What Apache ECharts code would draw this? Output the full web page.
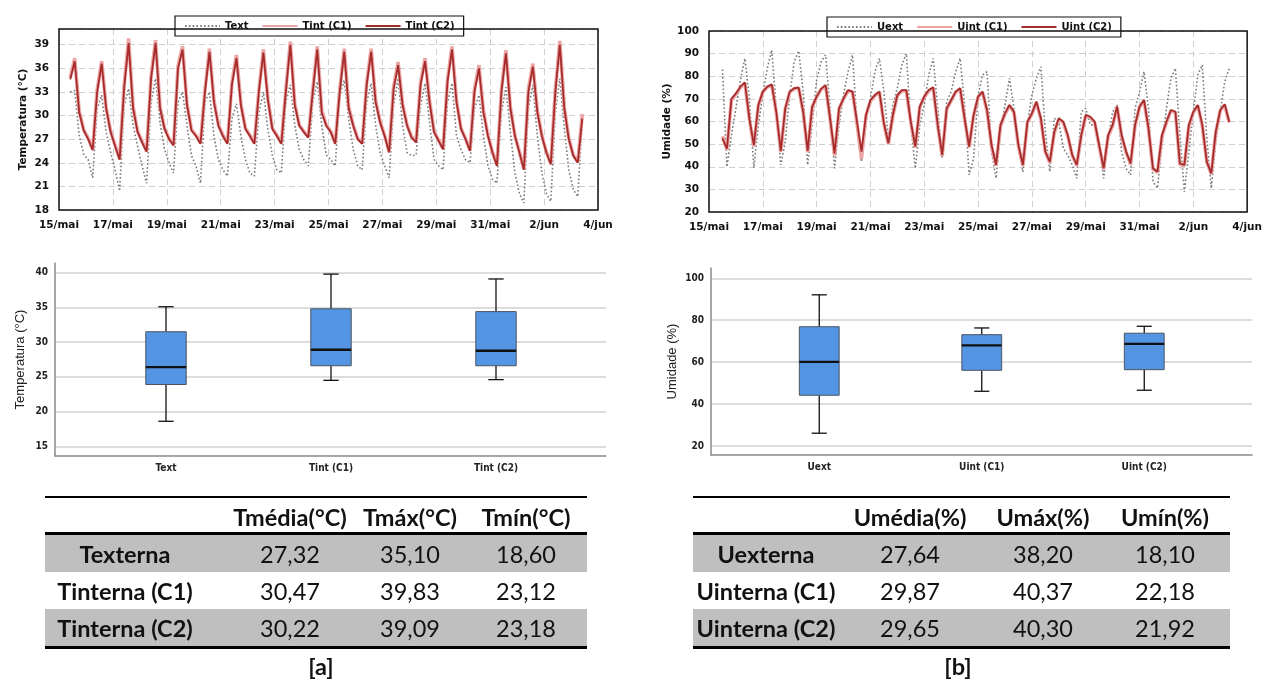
<!DOCTYPE html>
<html>
<head>
<meta charset="utf-8">
<script src="https://cdn.jsdelivr.net/npm/echarts@6/dist/echarts.min.js"></script>
<style>
  html, body { margin: 0; padding: 0; background: #fff; }
  #chart { position: absolute; left: 0; top: 0; width: 1265px; height: 681px; }
  .cell { position: absolute; width: 220px; text-align: center; font-family: Lato, 'Open Sans', sans-serif;
          font-size: 23.5px; line-height: 28px; color: #111; white-space: nowrap; }
  .bold { font-weight: bold; }
  .rule { position: absolute; background: #000; }
  .band { position: absolute; background: #bfbfbf; }
</style>
</head>
<body>
<div id="chart"></div>
<div id="tables"></div>
<script>
// ---- time series: temperature, every 4 h from 15/mai 10:00 ----
const tempText = [
  33.0, 33.2, 27.4, 25.1,
  24.4, 22.1, 30.9, 32.6, 27.9, 25.3,
  23.1, 20.4, 31.3, 33.4, 28.7, 26.1,
  23.6, 21.4, 31.7, 34.7, 29.1, 25.7,
  24.0, 22.7, 31.7, 33.0, 28.7, 24.9,
  23.6, 21.4, 31.7, 33.0, 27.4, 24.4,
  23.1, 22.3, 29.6, 31.5, 27.4, 24.4,
  22.7, 22.3, 30.4, 33.0, 28.3, 24.9,
  23.1, 22.7, 31.7, 33.9, 28.7, 25.7,
  24.4, 23.6, 31.7, 34.3, 28.7, 25.0,
  24.4, 23.6, 32.6, 34.5, 29.6, 25.7,
  23.6, 23.1, 31.7, 34.1, 28.7, 25.3,
  23.6, 22.1, 31.3, 34.7, 28.7, 25.3,
  24.9, 25.0, 31.3, 34.1, 29.1, 24.4,
  23.6, 23.1, 31.7, 34.1, 27.4, 25.7,
  24.4, 24.0, 30.9, 32.6, 27.4, 23.6,
  21.9, 21.4, 30.4, 33.6, 27.9, 22.7,
  20.1, 18.9, 30.9, 33.9, 27.4, 22.7,
  20.1, 19.1, 30.4, 34.7, 28.3, 23.1,
  20.6, 19.7, 29.6
];
const tempC1 = [
  34.8, 37.3, 30.6, 28.2,
  27.1, 25.7, 33.3, 36.9, 31.0, 28.0,
  26.2, 24.5, 33.8, 39.8, 31.1, 28.0,
  26.7, 25.5, 35.0, 39.6, 31.1, 28.4,
  27.1, 26.3, 36.3, 38.8, 31.5, 28.2,
  27.5, 26.5, 33.3, 38.5, 31.9, 28.8,
  27.5, 26.5, 34.2, 37.7, 31.5, 28.4,
  27.5, 26.5, 33.3, 38.4, 32.2, 28.4,
  27.5, 26.5, 33.3, 39.4, 31.5, 28.8,
  28.0, 27.3, 33.3, 38.8, 30.6, 28.8,
  28.0, 26.5, 33.3, 38.5, 31.1, 28.8,
  27.1, 26.5, 34.2, 38.5, 31.9, 29.2,
  27.5, 25.4, 33.7, 36.8, 31.5, 28.8,
  27.3, 26.7, 34.2, 37.3, 31.9, 28.0,
  26.9, 25.8, 34.6, 38.8, 31.9, 28.4,
  27.1, 25.6, 33.3, 36.4, 30.6, 27.5,
  25.4, 23.7, 33.3, 38.3, 31.1, 27.5,
  25.4, 23.2, 33.3, 36.6, 30.6, 27.5,
  25.4, 23.9, 33.3, 39.5, 31.1, 27.1,
  25.0, 24.1, 30.2
];
const tempC2 = [
  34.6, 36.9, 30.4, 28.1,
  27.0, 25.6, 33.0, 36.6, 30.9, 27.9,
  26.1, 24.4, 33.5, 39.2, 30.9, 27.9,
  26.6, 25.4, 34.7, 39.2, 30.9, 28.3,
  27.0, 26.2, 36.0, 38.4, 31.3, 28.1,
  27.4, 26.4, 33.0, 38.1, 31.7, 28.7,
  27.4, 26.4, 33.9, 37.3, 31.3, 28.3,
  27.4, 26.4, 33.0, 38.0, 32.0, 28.3,
  27.4, 26.4, 33.0, 39.0, 31.3, 28.7,
  27.9, 27.2, 33.0, 38.4, 30.4, 28.7,
  27.9, 26.4, 33.0, 38.1, 30.9, 28.7,
  27.0, 26.4, 33.9, 38.1, 31.7, 29.1,
  27.4, 25.3, 33.4, 36.4, 31.3, 28.7,
  27.2, 26.6, 33.9, 36.9, 31.7, 27.9,
  26.8, 25.7, 34.3, 38.4, 31.7, 28.3,
  27.0, 25.5, 33.0, 36.0, 30.4, 27.4,
  25.3, 23.6, 33.0, 37.9, 30.9, 27.4,
  25.3, 23.1, 33.0, 36.2, 30.4, 27.4,
  25.3, 23.8, 33.0, 39.0, 30.9, 27.0,
  24.9, 24.0, 29.6
];

// ---- time series: humidity, every 4 h from 15/mai 12:00 ----
const humExt = [
  83.0, 40.0, 54.0,
  65.8, 78.3, 87.9, 70.2, 39.5, 58.5,
  71.7, 83.5, 91.6, 65.8, 40.8, 51.1,
  71.7, 86.4, 91.2, 73.2, 40.8, 58.5,
  78.3, 86.4, 89.4, 65.8, 39.3, 58.5,
  71.7, 82.0, 89.4, 59.9, 42.2, 59.9,
  70.2, 82.0, 87.9, 73.2, 52.6, 67.3,
  74.7, 85.0, 90.1, 58.5, 39.3, 58.5,
  67.3, 80.6, 87.9, 65.8, 43.7, 68.8,
  73.2, 82.0, 87.9, 67.3, 36.4, 43.7,
  71.7, 80.6, 82.0, 46.7, 34.9, 55.5,
  67.3, 79.1, 65.8, 48.1, 37.8, 58.5,
  71.7, 79.1, 84.2, 55.5, 37.8, 61.4,
  59.9, 48.1, 45.2, 40.8, 34.9, 64.3,
  65.8, 58.5, 58.5, 49.6, 34.9, 52.6,
  64.3, 67.3, 46.7, 39.3, 36.4, 65.8,
  73.2, 82.0, 65.8, 33.4, 30.5, 49.6,
  65.8, 79.1, 83.5, 54.0, 29.0, 46.7,
  64.3, 80.6, 85.0, 52.6, 30.5, 51.1,
  64.3, 77.6, 83.5
];
const humC1 = [
  53.5, 47.5, 69.5,
  72.0, 75.0, 77.0, 61.0, 49.0, 67.0,
  73.0, 75.2, 76.0, 64.0, 46.5, 65.5,
  73.0, 74.5, 74.8, 64.0, 46.5, 66.3,
  70.8, 74.2, 75.8, 61.0, 45.0, 65.5,
  70.0, 73.5, 73.0, 59.0, 43.5, 62.5,
  69.0, 71.5, 73.0, 59.0, 50.0, 62.5,
  71.5, 73.5, 73.5, 59.5, 48.5, 66.3,
  70.8, 73.5, 74.8, 58.0, 44.8, 65.5,
  69.2, 73.0, 74.5, 61.0, 48.5, 62.5,
  70.8, 73.0, 64.5, 49.0, 40.5, 58.0,
  63.3, 67.0, 64.0, 49.0, 40.5, 59.5,
  63.3, 68.5, 61.0, 46.5, 41.8, 55.0,
  61.0, 59.5, 53.5, 45.0, 40.5, 53.5,
  62.5, 61.8, 59.5, 49.0, 39.0, 53.5,
  58.0, 66.3, 53.5, 46.5, 41.0, 58.0,
  66.3, 69.2, 56.5, 39.0, 37.5, 53.5,
  59.5, 64.8, 64.0, 41.0, 40.5, 58.0,
  64.0, 67.0, 58.0, 42.0, 36.8, 55.0,
  64.8, 67.3, 59.5
];
const humC2 = [
  52.5, 48.0, 70.0,
  72.4, 75.4, 77.3, 61.4, 49.6, 67.3,
  73.2, 75.4, 76.4, 64.3, 47.0, 65.8,
  73.2, 74.7, 75.0, 64.3, 47.0, 66.6,
  71.0, 74.4, 76.1, 61.4, 45.9, 65.8,
  70.2, 73.9, 73.2, 59.9, 46.7, 62.9,
  69.5, 71.7, 73.2, 59.2, 50.4, 62.9,
  71.7, 73.9, 73.9, 59.9, 48.9, 66.6,
  71.0, 73.9, 75.1, 58.5, 45.2, 65.8,
  69.5, 73.2, 74.7, 61.4, 48.9, 62.9,
  71.0, 73.2, 65.0, 49.6, 40.8, 58.5,
  63.6, 67.3, 64.3, 49.6, 40.8, 59.9,
  63.6, 68.8, 61.4, 46.7, 42.2, 55.5,
  61.4, 59.9, 54.0, 45.2, 40.8, 54.0,
  62.9, 62.1, 59.9, 49.6, 39.3, 54.0,
  58.5, 66.6, 54.0, 46.7, 41.5, 58.5,
  66.6, 69.5, 57.0, 39.3, 37.8, 54.0,
  59.9, 65.1, 64.3, 41.5, 40.8, 58.5,
  64.3, 67.3, 58.5, 42.2, 37.1, 55.5,
  65.1, 67.6, 59.9
];

// ---- box plots: [min, Q1, median, Q3, max] ----
const boxCatsT = ['Text', 'Tint (C1)', 'Tint (C2)'];
const boxT = [
  [18.6, 23.9, 26.4, 31.5, 35.1],
  [24.5, 26.6, 28.9, 34.8, 39.8],
  [24.6, 26.6, 28.75, 34.4, 39.1]
];
const boxCatsU = ['Uext', 'Uint (C1)', 'Uint (C2)'];
const boxU = [
  [26.1, 44.2, 60.1, 76.9, 92.1],
  [46.1, 56.1, 68.0, 73.1, 76.3],
  [46.6, 56.4, 68.7, 73.8, 77.1]
];
const boxTicksT = [15, 20, 25, 30, 35, 40];
const boxTicksU = [20, 40, 60, 80, 100];

// ---- tables ----
const tHeader = ['Tmédia(°C)', 'Tmáx(°C)', 'Tmín(°C)'];
const tRows = ['Texterna', 'Tinterna (C1)', 'Tinterna (C2)'];
const tValues = [
  ['27,32', '35,10', '18,60'],
  ['30,47', '39,83', '23,12'],
  ['30,22', '39,09', '23,18']
];
const uHeader = ['Umédia(%)', 'Umáx(%)', 'Umín(%)'];
const uRows = ['Uexterna', 'Uinterna (C1)', 'Uinterna (C2)'];
const uValues = [
  ['27,64', '38,20', '18,10'],
  ['29,87', '40,37', '22,18'],
  ['29,65', '40,30', '21,92']
];

const HOUR = 3600 * 1000;
const DAY = 24 * HOUR;
const tempStart = Date.UTC(2021, 4, 15, 10);
const humStart = Date.UTC(2021, 4, 15, 12);
const axisStart = Date.UTC(2021, 4, 15);
const axisEnd = Date.UTC(2021, 5, 4);

function withTime(values, start) {
  return values.map((v, i) => [start + i * 4 * HOUR, v]);
}

function dateLabel(v) {
  const d = new Date(v);
  return d.getUTCDate() + '/' + (d.getUTCMonth() === 4 ? 'mai' : 'jun');
}

const lineFont = { fontFamily: 'DejaVu Sans', fontWeight: 'bold', color: '#111' };
const narrow = { fontFamily: "'DejaVu Sans Condensed', 'Liberation Sans', sans-serif", fontWeight: 'bold', color: '#222', fontSize: 10 };

function timeAxis(gridIndex) {
  return {
    type: 'value', gridIndex, min: axisStart, max: axisEnd, interval: 2 * DAY,
    axisLine: { show: false }, axisTick: { show: false },
    axisLabel: Object.assign({ fontSize: 10.5, margin: 10, formatter: dateLabel }, lineFont),
    splitLine: { show: true, lineStyle: { color: '#cfcfcf', type: [6, 4], width: 1 } }
  };
}

function lineYAxis(gridIndex, name, min, max, interval) {
  return {
    type: 'value', gridIndex, min, max, interval, name,
    nameLocation: 'middle', nameGap: 30,
    nameTextStyle: Object.assign({ fontSize: 10.5 }, lineFont),
    axisLine: { show: false }, axisTick: { show: false },
    axisLabel: Object.assign({ fontSize: 10.5, margin: 10, showMaxLabel: (max - min) % interval === 0 }, lineFont),
    splitLine: { show: true, lineStyle: { color: '#cfcfcf', type: [6, 4], width: 1 } }
  };
}

function frameX(gridIndex) {
  return {
    type: 'value', gridIndex, min: 0, max: 1,
    axisLine: { show: true, onZero: false, lineStyle: { color: '#8a8a8a', width: 1.5 } },
    axisTick: { show: false }, axisLabel: { show: false }, splitLine: { show: false }
  };
}

function frameY(gridIndex, name, min, max, ticks, gap) {
  return {
    type: 'value', gridIndex, min, max, name,
    nameLocation: 'middle', nameGap: gap,
    nameTextStyle: { fontFamily: 'Liberation Sans', fontSize: 13, color: '#222' },
    axisLine: { show: true, lineStyle: { color: '#8a8a8a', width: 1.5 } },
    axisTick: { show: false, customValues: ticks },
    axisLabel: Object.assign({ margin: 7, customValues: ticks }, narrow),
    splitLine: { show: true, lineStyle: { color: '#d2d2d2', width: 1.5 } }
  };
}

function innerX(gridIndex, cats) {
  return {
    type: 'category', gridIndex, data: cats,
    axisLine: { show: false }, axisTick: { show: false },
    axisLabel: Object.assign({ margin: 7 }, narrow)
  };
}

function innerY(gridIndex, min, max) {
  return { type: 'value', gridIndex, min, max, show: false };
}

function renderBox(params, api) {
  const i = api.value(0);
  const lo = api.coord([i, api.value(1)]);
  const q1 = api.coord([i, api.value(2)]);
  const md = api.coord([i, api.value(3)]);
  const q3 = api.coord([i, api.value(4)]);
  const hi = api.coord([i, api.value(5)]);
  const band = api.size([1, 0])[0];
  const w = band * 0.245;
  const cap = w * 0.38;
  const x = md[0];
  const seg = (x1, y1, x2, y2, lw) => ({
    type: 'line', shape: { x1, y1, x2, y2 }, style: { stroke: '#111', lineWidth: lw }
  });
  return {
    type: 'group',
    children: [
      seg(x, hi[1], x, q3[1], 1.3),
      seg(x, q1[1], x, lo[1], 1.3),
      seg(x - cap / 2, hi[1], x + cap / 2, hi[1], 1.3),
      seg(x - cap / 2, lo[1], x + cap / 2, lo[1], 1.3),
      { type: 'rect', shape: { x: x - w / 2, y: q3[1], width: w, height: q1[1] - q3[1] },
        style: { fill: '#5394e3', stroke: '#4d5560', lineWidth: 1 } },
      seg(x - w / 2, md[1], x + w / 2, md[1], 2.4)
    ]
  };
}

function legendBox(left, top, names) {
  return {
    left, top, data: names, orient: 'horizontal',
    padding: [5, 9], itemGap: 13, itemWidth: 35, itemHeight: 10,
    backgroundColor: '#fff', borderColor: '#111', borderWidth: 1.2, borderRadius: 0,
    itemStyle: { opacity: 0 },
    textStyle: { fontFamily: 'DejaVu Sans', fontWeight: 'bold', fontSize: 10, color: '#111' }
  };
}

const extStyle = { color: '#7a7a7a', width: 1.6, type: [1.6, 2.2] };
const c1Style = { color: '#eba6a6', width: 3.6 };
const c2Style = { color: '#a62b2b', width: 1.8 };

function lineSeries(name, data, style, axis) {
  return {
    name, type: 'line', data, xAxisIndex: axis, yAxisIndex: axis,
    showSymbol: false, symbol: 'none', lineStyle: style, itemStyle: { color: style.color },
    emphasis: { disabled: true }
  };
}

const chart = echarts.init(document.getElementById('chart'));
chart.setOption({
  animation: false,
  grid: [
    { left: 59, top: 29, width: 539, height: 181, show: true, z: 5, borderColor: '#111', borderWidth: 1.5, backgroundColor: 'transparent' },
    { left: 709, top: 31, width: 543, height: 181, show: true, z: 5, borderColor: '#111', borderWidth: 1.5, backgroundColor: 'transparent' },
    { left: 55, top: 263, width: 551, height: 193 },
    { left: 83.5, top: 263, width: 495, height: 193 },
    { left: 711, top: 268, width: 541, height: 187 },
    { left: 738, top: 268, width: 487.5, height: 187 }
  ],
  legend: [
    legendBox(175, 16, ['Text', 'Tint (C1)', 'Tint (C2)']),
    legendBox(827, 17, ['Uext', 'Uint (C1)', 'Uint (C2)'])
  ],
  xAxis: [
    timeAxis(0),
    timeAxis(1),
    frameX(2),
    innerX(3, boxCatsT),
    frameX(4),
    innerX(5, boxCatsU)
  ],
  yAxis: [
    lineYAxis(0, 'Temperatura (°C)', 18, 41, 3),
    lineYAxis(1, 'Umidade (%)', 20, 100, 10),
    frameY(2, 'Temperatura (°C)', 13.6, 41.4, boxTicksT, 28),
    innerY(3, 13.6, 41.4),
    frameY(4, 'Umidade (%)', 15.7, 104.9, boxTicksU, 32),
    innerY(5, 15.7, 104.9)
  ],
  series: [
    lineSeries('Text', withTime(tempText, tempStart), extStyle, 0),
    lineSeries('Tint (C1)', withTime(tempC1, tempStart), c1Style, 0),
    lineSeries('Tint (C2)', withTime(tempC2, tempStart), c2Style, 0),
    lineSeries('Uext', withTime(humExt, humStart), extStyle, 1),
    lineSeries('Uint (C1)', withTime(humC1, humStart), c1Style, 1),
    lineSeries('Uint (C2)', withTime(humC2, humStart), c2Style, 1),
    {
      type: 'custom', xAxisIndex: 3, yAxisIndex: 3, renderItem: renderBox,
      encode: { x: 0, y: [1, 2, 3, 4, 5] },
      data: boxT.map((b, i) => [i].concat(b))
    },
    {
      type: 'custom', xAxisIndex: 5, yAxisIndex: 5, renderItem: renderBox,
      encode: { x: 0, y: [1, 2, 3, 4, 5] },
      data: boxU.map((b, i) => [i].concat(b))
    }
  ]
});

// ---- tables below the box plots ----
const host = document.getElementById('tables');
function add(cls, css, text) {
  const d = document.createElement('div');
  d.className = cls;
  Object.assign(d.style, css);
  if (text !== undefined) d.textContent = text;
  host.appendChild(d);
}
function buildTable(header, rows, values, caption, L) {
  const w = (L.right - L.left) + 'px';
  const rowTop = L.top + 39;
  const rowH = 37;
  add('rule', { left: L.left + 'px', top: L.top + 'px', width: w, height: '2px' });
  rows.forEach((r, i) => {
    if (i % 2 === 0) {
      add('band', { left: L.left + 'px', top: (rowTop + i * rowH) + 'px', width: w, height: rowH + 'px' });
    }
  });
  add('rule', { left: L.left + 'px', top: (rowTop - 3) + 'px', width: w, height: '3px' });
  add('rule', { left: L.left + 'px', top: (rowTop + rows.length * rowH) + 'px', width: w, height: '3px' });
  const place = (cx, cy, text, bold) =>
    add(bold ? 'cell bold' : 'cell', { left: (cx - 110) + 'px', top: (cy - 14) + 'px' }, text);
  header.forEach((h, j) => place(L.cols[j], L.top + 21, h, true));
  rows.forEach((r, i) => {
    const cy = rowTop + i * rowH + rowH / 2;
    place(L.label, cy, r, true);
    values[i].forEach((v, j) => place(L.cols[j], cy, v, false));
  });
  place(L.caption, 666, caption, true);
}
buildTable(tHeader, tRows, tValues, '[a]',
  { left: 45, right: 587, top: 496, label: 125, cols: [290, 410, 526], caption: 321 });
buildTable(uHeader, uRows, uValues, '[b]',
  { left: 693, right: 1230, top: 496, label: 766, cols: [910, 1043, 1165], caption: 958 });
</script>
</body>
</html>
